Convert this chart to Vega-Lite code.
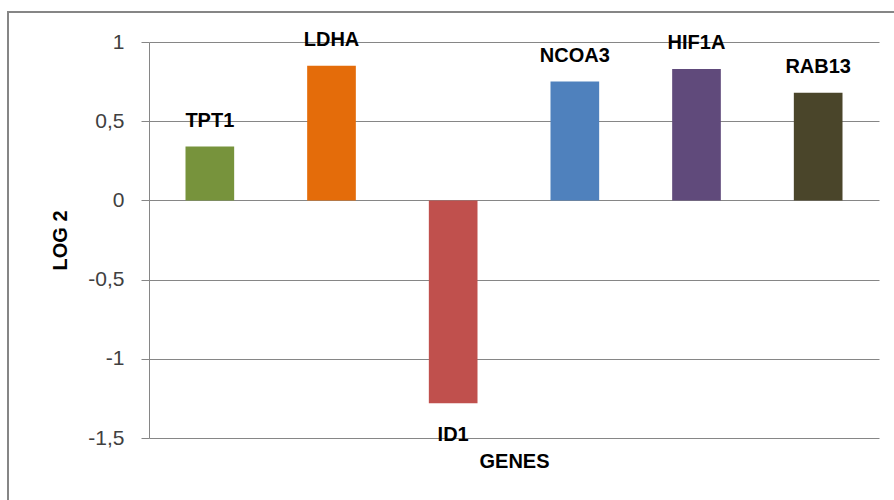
{
  "$schema": "https://vega.github.io/schema/vega-lite/v6.json",
  "width": 888,
  "height": 490,
  "autosize": {"type": "none"},
  "padding": {"left": 8, "top": 12, "right": -2, "bottom": -2},
  "background": "white",
  "config": {
    "font": "Liberation Sans",
    "view": {"stroke": "#868686", "strokeWidth": 2}
  },
  "data": {
    "values": [
      {"gene": "TPT1", "log2": 0.34},
      {"gene": "LDHA", "log2": 0.85},
      {"gene": "ID1", "log2": -1.28},
      {"gene": "NCOA3", "log2": 0.75},
      {"gene": "HIF1A", "log2": 0.83},
      {"gene": "RAB13", "log2": 0.68}
    ]
  },
  "encoding": {
    "x": {
      "field": "gene",
      "type": "nominal",
      "sort": null,
      "scale": {"range": [141, 871], "paddingInner": 0.6, "paddingOuter": 0.3},
      "axis": {
        "title": "GENES",
        "orient": "bottom",
        "offset": -64,
        "domain": false,
        "ticks": false,
        "labels": false,
        "grid": false,
        "titleFont": "Liberation Sans",
        "titleFontSize": 20,
        "titleFontWeight": "bold",
        "titleColor": "#000000",
        "titleY": 23,
        "titleBaseline": "middle"
      }
    },
    "y": {
      "field": "log2",
      "type": "quantitative",
      "scale": {"domain": [-1.5, 1], "range": [426, 30], "nice": false},
      "axis": {
        "title": "LOG 2",
        "offset": -141,
        "values": [-1.5, -1, -0.5, 0, 0.5, 1],
        "grid": true,
        "gridColor": "#868686",
        "gridWidth": 1,
        "domainColor": "#868686",
        "domainWidth": 1,
        "tickColor": "#868686",
        "tickSize": 8,
        "labelPadding": 17,
        "labelFont": "Liberation Sans",
        "labelFontSize": 21,
        "labelColor": "#404040",
        "labelOverlap": false,
        "labelExpr": "replace(replace(format(datum.value, '.1~f'), '.', ','), '\u2212', '-')",
        "titleX": -89,
        "titleY": 228,
        "titleAngle": 270,
        "titleAlign": "center",
        "titleBaseline": "middle",
        "titleFont": "Liberation Sans",
        "titleFontSize": 20,
        "titleFontWeight": "bold",
        "titleColor": "#000000"
      }
    }
  },
  "layer": [
    {
      "mark": {"type": "bar"},
      "encoding": {
        "color": {
          "field": "gene",
          "type": "nominal",
          "scale": {
            "domain": ["TPT1", "LDHA", "ID1", "NCOA3", "HIF1A", "RAB13"],
            "range": ["#77933C", "#E46C0A", "#C0504D", "#4F81BD", "#604A7B", "#4A452A"]
          },
          "legend": null
        }
      }
    },
    {
      "transform": [{"filter": "datum.log2 > 0"}],
      "mark": {"type": "text", "baseline": "alphabetic", "dy": -20, "fontSize": 20, "fontWeight": "bold", "font": "Liberation Sans", "color": "#000000"},
      "encoding": {"text": {"field": "gene"}}
    },
    {
      "transform": [{"filter": "datum.log2 < 0"}],
      "mark": {"type": "text", "baseline": "alphabetic", "dy": 38, "fontSize": 20, "fontWeight": "bold", "font": "Liberation Sans", "color": "#000000"},
      "encoding": {"text": {"field": "gene"}}
    }
  ]
}
